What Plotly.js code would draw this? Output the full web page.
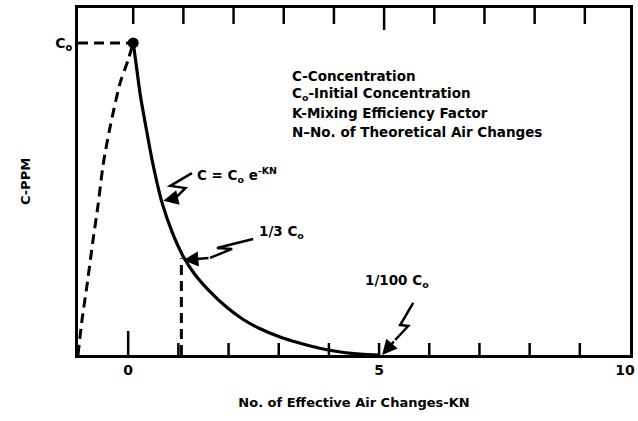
<!DOCTYPE html>
<html>
<head>
<meta charset="utf-8">
<script src="https://cdn.plot.ly/plotly-3.0.1.min.js"></script>
<style>html,body{margin:0;padding:0;background:#fff;}#chart{width:638px;height:421px;}</style>
</head>
<body>
<div id="chart"></div>
<script>
// ---- data ----
const decayN = [0.10,0.16,0.24,0.36,0.48,0.58,0.68,0.88,1.10,1.33,1.63,1.97,2.30,2.63,3.00,3.29,3.63,3.96,4.30,4.62,5.00];
const decayC = [1.00,0.93,0.835,0.725,0.622,0.548,0.485,0.392,0.315,0.258,0.203,0.152,0.113,0.084,0.059,0.044,0.029,0.017,0.008,0.003,0.0];
const riseN = [-1.0,-0.92,-0.82,-0.70,-0.60,-0.50,-0.36,-0.16,0.0,0.10];
const riseC = [0,0.112,0.224,0.369,0.481,0.609,0.731,0.872,0.946,1.0];
const c0N = [-1.0, 0.10];
const c0C = [1.0, 1.0];
const thirdN = [1.06, 1.06];
const thirdC = [0, 0.31];
const peakN = [0.10];
const peakC = [1.0];
const xTickVals = [0,1,2,3,4,5,6,7,8,9,9.9];
const xTickText = ['0','','','','','5','','','','','10'];
const topTickVals = [0.1,1.1,2.1,3.1,4.1,5.1,6.1,7.1,8.1,9.1];
const yTickVals = [1];
const yTickText = ['C<sub>o</sub>'];
const legendLines = ['C-Concentration','C<sub>o</sub>-Initial Concentration','K-Mixing Efficiency Factor','N–No. of Theoretical Air Changes'];

const FONT = 'DejaVu Sans, Liberation Sans, Arial, sans-serif';
const dashStyle = '10px,6px';

const traces = [
  {x: riseN, y: riseC, mode:'lines', line:{color:'#000', width:3, dash:dashStyle, shape:'spline', smoothing:0.8}, hoverinfo:'skip'},
  {x: c0N, y: c0C, mode:'lines', line:{color:'#000', width:3, dash:dashStyle}, hoverinfo:'skip'},
  {x: thirdN, y: thirdC, mode:'lines', line:{color:'#000', width:3, dash:dashStyle}, hoverinfo:'skip'},
  {x: decayN, y: decayC, mode:'lines', line:{color:'#000', width:3.2, shape:'spline', smoothing:1}, hoverinfo:'skip'},
  {x: peakN, y: peakC, mode:'markers', marker:{color:'#000', size:11}, hoverinfo:'skip'}
];

// tick marks drawn as axis decoration (inside the frame)
const shapes = [];
xTickVals.slice(0,10).forEach(v => {
  shapes.push({type:'line', xref:'x', yref:'paper', ysizemode:'pixel', yanchor:0, x0:v, x1:v, y0:0, y1:(v===0?24:12), line:{color:'#000', width:2.5}});
});
topTickVals.forEach(v => {
  shapes.push({type:'line', xref:'x', yref:'paper', ysizemode:'pixel', yanchor:1, x0:v, x1:v, y0:0, y1:(Math.abs(v-5.1)<1e-6?-22:-16), line:{color:'#000', width:2.5}});
});

// zig-zag leaders (decorative), in data coordinates
function pathFrom(pts){ return 'M ' + pts.map(p => p[0]+','+p[1]).join(' L '); }
const leader1 = [[1.27,0.583],[0.84,0.542],[1.14,0.535],[0.94,0.503]];
const leader2 = [[2.49,0.372],[1.77,0.343],[2.07,0.340],[1.63,0.311]];
const leader3 = [[5.68,0.167],[5.42,0.096],[5.58,0.093],[5.32,0.048]];
const tips = [[0.70,0.494],[1.10,0.304],[5.06,0.0]];
const leaders = [leader1, leader2, leader3];
leaders.forEach(l => shapes.push({type:'path', xref:'x', yref:'y', path: pathFrom(l), line:{color:'#000', width:2.5}}));

const annotations = [];
leaders.forEach((l,i) => {
  const last = l[l.length-1];
  annotations.push({x: tips[i][0], y: tips[i][1], ax: last[0], ay: last[1], axref:'x', ayref:'y', xref:'x', yref:'y',
    text:'', showarrow:true, arrowhead:2, arrowsize:1.2, arrowwidth:2.5, arrowcolor:'#000'});
});
const tfont = {family: FONT, size: 13.5, color:'#000', weight: 'bold'};
annotations.push({x:1.33, y:0.577, xref:'x', yref:'y', text:'C = C<sub>o</sub> e<sup>-KN</sup>', showarrow:false, xanchor:'left', yanchor:'middle', font:tfont});
annotations.push({x:2.57, y:0.394, xref:'x', yref:'y', text:'1/3 C<sub>o</sub>', showarrow:false, xanchor:'left', yanchor:'middle', font:tfont});
annotations.push({x:5.36, y:0.237, xref:'x', yref:'y', text:'1/100 C<sub>o</sub>', showarrow:false, xanchor:'center', yanchor:'middle', font:tfont});
const legendY = [0.894, 0.836, 0.776, 0.715];
legendLines.forEach((t,i) => {
  annotations.push({x:3.23, y:legendY[i], xref:'x', yref:'y', text:t, showarrow:false, xanchor:'left', yanchor:'middle', font:tfont});
});

const layout = {
  width: 638, height: 421,
  margin: {l:78, r:8, t:8, b:66},
  paper_bgcolor:'#fff', plot_bgcolor:'#fff',
  showlegend:false,
  font: {family: FONT, color:'#000', size: 13},
  xaxis: {
    range:[-1,10], fixedrange:true, showgrid:false, zeroline:false,
    showline:true, linecolor:'#000', linewidth:3, mirror:true,
    ticks:'', tickmode:'array', tickvals:xTickVals, ticktext:xTickText,
    ticklabeloverflow:'allow',
    tickfont:{family:FONT, size:14, color:'#000', weight:'bold'},
    title:{text:'No. of Effective Air Changes-KN', font:{family:FONT, size:13, color:'#000', weight:'bold'}, standoff:22}
  },
  yaxis: {
    range:[0,1.112], fixedrange:true, showgrid:false, zeroline:false,
    showline:true, linecolor:'#000', linewidth:3, mirror:true,
    ticks:'', tickmode:'array', tickvals:yTickVals, ticktext:yTickText,
    tickfont:{family:FONT, size:14, color:'#000', weight:'bold'},
    title:{text:'C-PPM', font:{family:FONT, size:13, color:'#000', weight:'bold'}, standoff:22}
  },
  shapes: shapes,
  annotations: annotations
};

Plotly.newPlot('chart', traces, layout, {staticPlot:true, displayModeBar:false});
</script>
</body>
</html>
